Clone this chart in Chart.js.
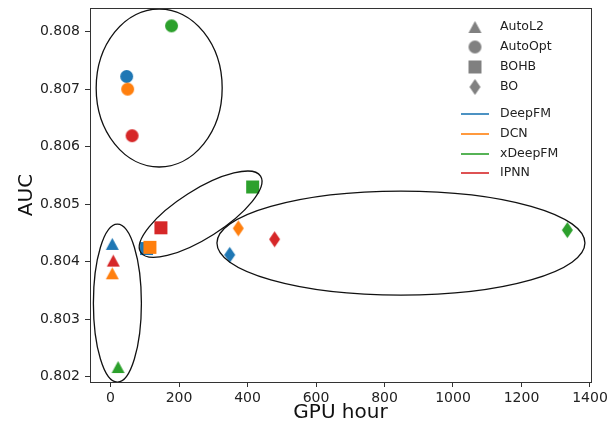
<!DOCTYPE html>
<html>
<head>
<meta charset="utf-8">
<script src="https://cdn.jsdelivr.net/npm/chart.js@4.4.0/dist/chart.umd.min.js"></script>
<style>
  html, body { margin: 0; padding: 0; background: #fff; }
</style>
</head>
<body>
<canvas id="myChart" width="608" height="431"></canvas>
<script>
const models = ['DeepFM', 'DCN', 'xDeepFM', 'IPNN'];
const modelColors = ['#1f77b4', '#ff7f0e', '#2ca02c', '#d62728'];
const methods = ['AutoL2', 'AutoOpt', 'BOHB', 'BO'];

// values per model, order: DeepFM, DCN, xDeepFM, IPNN
const autoL2Hours = [5, 5, 22, 8];
const autoL2Auc = [0.80431, 0.80380, 0.80217, 0.80402];
const autoOptHours = [47, 50, 178, 63];
const autoOptAuc = [0.80722, 0.80700, 0.80810, 0.80619];
const bohbHours = [105, 115, 415, 147];
const bohbAuc = [0.80423, 0.80425, 0.80530, 0.80459];
const boHours = [348, 373, 1334, 479];
const boAuc = [0.80412, 0.80458, 0.80455, 0.80439];

const xTicks = [0, 200, 400, 600, 800, 1000, 1200, 1400];
const yTicks = [0.802, 0.803, 0.804, 0.805, 0.806, 0.807, 0.808];

const hoursList = [autoL2Hours, autoOptHours, bohbHours, boHours];
const aucList = [autoL2Auc, autoOptAuc, bohbAuc, boAuc];
const shapes = ['tri', 'circle', 'square', 'diamond'];

// group outlines: centre in data units, radii in px, rotation in degrees
const ellipses = [
  { x: 142, y: 0.80702, rx: 63, ry: 79, rot: 0 },
  { x: 20, y: 0.80328, rx: 24, ry: 79, rot: 0 },
  { x: 263, y: 0.804826, rx: 71, ry: 24, rot: -32.4 },
  { x: 848, y: 0.804325, rx: 184, ry: 52, rot: 0 }
];

const FONT = "'DejaVu Sans', sans-serif";

function marker(shape, color) {
  const sizes = { tri: [13, 12], circle: [13, 13], square: [13, 13], diamond: [11, 16] };
  const [w, h] = sizes[shape];
  const c = document.createElement('canvas');
  c.width = w + 2;
  c.height = h + 2;
  const g = c.getContext('2d');
  g.fillStyle = color;
  g.translate(c.width / 2, c.height / 2);
  g.beginPath();
  if (shape === 'tri') {
    g.moveTo(0, -h / 2); g.lineTo(w / 2, h / 2); g.lineTo(-w / 2, h / 2); g.closePath();
  } else if (shape === 'circle') {
    g.arc(0, 0, w / 2, 0, Math.PI * 2);
  } else if (shape === 'square') {
    g.rect(-w / 2, -h / 2, w, h);
  } else {
    g.moveTo(0, -h / 2); g.lineTo(w / 2, 0); g.lineTo(0, h / 2); g.lineTo(-w / 2, 0); g.closePath();
  }
  g.fill();
  return c;
}

const frameAndEllipses = {
  id: 'frameAndEllipses',
  afterDatasetsDraw(chart) {
    const { ctx, chartArea: a, scales } = chart;
    ctx.save();
    ctx.strokeStyle = '#111';
    ctx.lineWidth = 1.3;
    ellipses.forEach(e => {
      ctx.beginPath();
      ctx.ellipse(scales.x.getPixelForValue(e.x), scales.y.getPixelForValue(e.y),
        e.rx, e.ry, e.rot * Math.PI / 180, 0, Math.PI * 2);
      ctx.stroke();
    });
    ctx.strokeStyle = '#333';
    ctx.lineWidth = 1;
    ctx.strokeRect(Math.round(a.left) + 0.5, Math.round(a.top) + 0.5,
      Math.round(a.right - a.left), Math.round(a.bottom - a.top));
    ctx.restore();
  }
};

const legendBox = {
  id: 'legendBox',
  afterDraw(chart) {
    const ctx = chart.ctx;
    ctx.save();
    ctx.font = '12.5px ' + FONT;
    ctx.fillStyle = '#222';
    ctx.textBaseline = 'middle';
    const textX = 500;
    const methodY = [27, 47, 67, 87];
    methods.forEach((m, i) => {
      const img = marker(shapes[i], '#808080');
      ctx.drawImage(img, 475 - img.width / 2, methodY[i] - img.height / 2);
      ctx.fillText(m, textX, methodY[i]);
    });
    const modelY = [114, 134, 154, 173];
    models.forEach((m, i) => {
      ctx.strokeStyle = modelColors[i];
      ctx.globalAlpha = 0.8;
      ctx.lineWidth = 2;
      ctx.beginPath();
      ctx.moveTo(461, modelY[i]);
      ctx.lineTo(489, modelY[i]);
      ctx.stroke();
      ctx.globalAlpha = 1;
      ctx.fillText(m, textX, modelY[i]);
    });
    ctx.restore();
  }
};

const ctx = document.getElementById('myChart').getContext('2d');
new Chart(ctx, {
  type: 'scatter',
  data: {
    datasets: methods.map((m, i) => ({
      label: m,
      data: hoursList[i].map((x, j) => ({ x: x, y: aucList[i][j] })),
      pointStyle: modelColors.map(c => marker(shapes[i], c)),
      pointRadius: 7,
      pointHoverRadius: 7
    }))
  },
  options: {
    responsive: false,
    animation: false,
    layout: { padding: { top: 8, right: 17, left: 0, bottom: 0 } },
    plugins: { legend: { display: false }, tooltip: { enabled: false } },
    scales: {
      x: {
        type: 'linear',
        min: -60,
        max: 1403,
        afterBuildTicks: s => { s.ticks = xTicks.map(v => ({ value: v })); },
        afterFit: s => { s.height = 49; s.paddingLeft = 0; s.paddingRight = 0; },
        grid: { drawOnChartArea: false, drawTicks: true, tickLength: 5, color: '#333' },
        border: { display: false },
        ticks: { font: { family: FONT, size: 14 }, color: '#222', padding: 3, maxRotation: 0, autoSkip: false, callback: v => String(v) },
        title: { display: true, text: 'GPU hour', font: { family: FONT, size: 20 }, color: '#111', padding: { top: 0, bottom: 6 } }
      },
      y: {
        type: 'linear',
        min: 0.80191,
        max: 0.80841,
        afterBuildTicks: s => { s.ticks = yTicks.map(v => ({ value: v })); },
        afterFit: s => { s.width = 90; s.paddingTop = 0; s.paddingBottom = 0; },
        grid: { drawOnChartArea: false, drawTicks: true, tickLength: 5, color: '#333' },
        border: { display: false },
        ticks: { font: { family: FONT, size: 14 }, color: '#222', padding: 5, autoSkip: false, callback: v => v.toFixed(3) },
        title: { display: true, text: 'AUC', font: { family: FONT, size: 20 }, color: '#111', padding: { top: 15, bottom: 0 } }
      }
    }
  },
  plugins: [frameAndEllipses, legendBox]
});
</script>
</body>
</html>
